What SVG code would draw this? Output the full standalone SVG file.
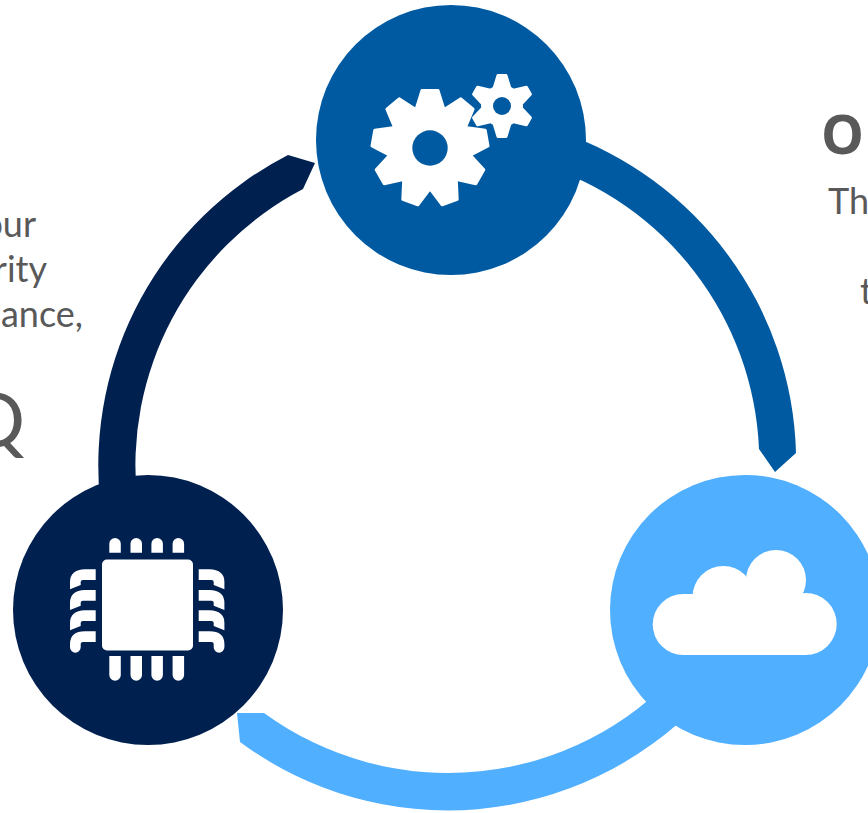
<svg xmlns="http://www.w3.org/2000/svg" width="868" height="813" viewBox="0 0 868 813">
<style>
.t{font-family:"Lato","Open Sans","Liberation Sans",sans-serif;fill:#595959;font-size:36px}
.w{fill:#fff}
.tw{fill:#fff;stroke:#fff;stroke-width:3;stroke-linejoin:round}
</style>
<defs>
<polygon id="big" points="-13.5,-40 -8,-57.500 8,-57.500 13.5,-40"/>
<polygon id="small" points="-7.5,-19 -4,-30.5 4,-30.5 7.5,-19"/>
<path id="pin" d="M95.700 569.300H85Q70 570 70 582V589.300L80.700 585V582Q80.700 580 83 580H95.700Z"/>
<path id="pinEnd" d="M95.700 631.300H85Q70 631.300 70 644V647.300A5.350 5.350 0 0 0 80.700 647.300V644Q80.700 642 83 642H95.700Z"/>
<g id="pins" class="w">
<use href="#pin"/><use href="#pin" y="20.700"/><use href="#pin" y="41"/><use href="#pinEnd"/>
</g>
<path id="pinTop" d="M0 14.700V5.750A5.750 5.750 0 0 1 11.500 5.750V14.700Z"/>
<path id="pinBot" d="M0 0V19A5.750 5.750 0 0 0 11.500 19V0Z"/>
</defs>
<rect width="868" height="813" fill="#fff"/>
<g id="left-text">
<text class="t" x="36" y="237" text-anchor="end">our</text>
<text class="t" x="47" y="282" text-anchor="end">rity</text>
<text class="t" x="83" y="327" text-anchor="end">ance,</text>
<text class="t" x="25" y="447" text-anchor="end" style="font-size:76px">Q</text>
</g>
<g id="right-text">
<text class="t" x="821" y="154" style="font-family:'Open Sans','Liberation Sans',sans-serif;font-size:54px;font-weight:700">O</text>
<text class="t" x="828" y="214">Th</text>
<text class="t" x="860" y="304">t</text>
</g>
<g id="connectors">
<path fill="#005AA1" d="M560 131.800A349 349 0 0 1 796 453L775 472L759 449A312 312 0 0 0 540 164.200Z"/>
<path fill="#50AFFF" d="M700 702.400A349 349 0 0 1 240 742L237 713L264 713A312 312 0 0 0 680 669.500Z"/>
<path fill="#002050" d="M100 500A349 349 0 0 1 288 155L315 163L303 189A312 312 0 0 0 137.300 500Z"/>
</g>
<g id="node-gears">
<circle cx="451" cy="140" r="135" fill="#005AA1"/>
<g transform="translate(430 148)" class="tw">
<circle r="43" stroke="none"/>
<use href="#big"/><use href="#big" transform="rotate(40)"/><use href="#big" transform="rotate(80)"/><use href="#big" transform="rotate(120)"/><use href="#big" transform="rotate(160)"/><use href="#big" transform="rotate(200)"/><use href="#big" transform="rotate(240)"/><use href="#big" transform="rotate(280)"/><use href="#big" transform="rotate(320)"/>
<circle r="17.700" fill="#005AA1" stroke="none"/>
</g>
<g transform="translate(502 106)" class="tw">
<circle r="21" stroke="none"/>
<use href="#small"/><use href="#small" transform="rotate(60)"/><use href="#small" transform="rotate(120)"/><use href="#small" transform="rotate(180)"/><use href="#small" transform="rotate(240)"/><use href="#small" transform="rotate(300)"/>
<circle r="9" fill="#005AA1" stroke="none"/>
</g>
</g>
<g id="node-chip">
<circle cx="148" cy="610" r="135" fill="#002050"/>
<rect class="w" x="102" y="559.500" width="91" height="91" rx="5"/>
<use href="#pins"/>
<use href="#pins" transform="matrix(-1 0 0 1 294.400 0)"/>
<g class="w">
<use href="#pinTop" x="109.300" y="538"/><use href="#pinTop" x="130.500" y="538"/><use href="#pinTop" x="151.400" y="538"/><use href="#pinTop" x="172.600" y="538"/>
<use href="#pinBot" x="109.300" y="656"/><use href="#pinBot" x="130.500" y="656"/><use href="#pinBot" x="151.400" y="656"/><use href="#pinBot" x="172.600" y="656"/>
</g>
</g>
<g id="node-cloud">
<circle cx="745" cy="610" r="135" fill="#50AFFF"/>
<g class="w">
<circle cx="683.200" cy="624.500" r="30.500"/>
<circle cx="805.700" cy="624" r="31"/>
<circle cx="723.300" cy="596.700" r="30.700"/>
<circle cx="776" cy="580" r="30"/>
<rect x="683" y="594" width="123" height="61"/>
<polygon points="745,590 790,600 740,610"/>
</g>
</g>
</svg>
